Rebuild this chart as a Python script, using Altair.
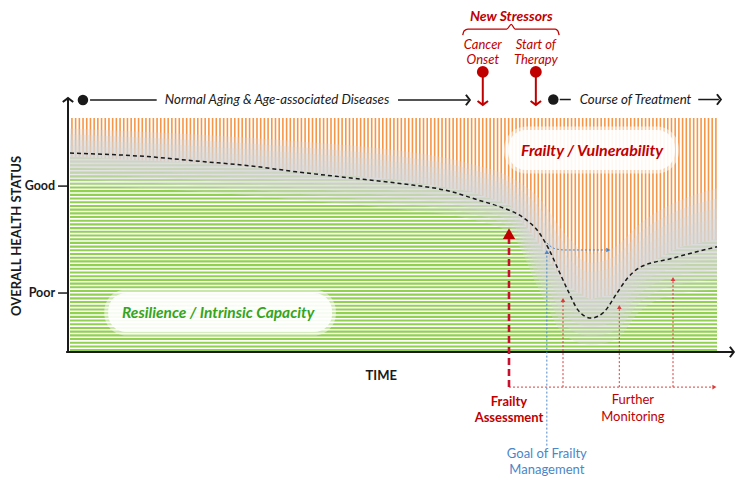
import altair as alt
import numpy as np
import pandas as pd

# ---------------- data (time 0-100, health 0-100) ----------------
curve_time = [0, 12, 20, 28, 35, 43, 51, 59, 63, 66.5, 70, 72.5, 74, 75.5, 77, 78.5, 80.5, 82.5, 84.5, 86, 88, 93, 100]
curve_health = [85, 83.5, 81.5, 79.5, 77, 74.5, 72, 68.5, 65, 62, 57.5, 51, 44, 35, 26, 18, 14.5, 17, 25, 31, 36, 40, 45]

band_time = [0, 20.1, 35.5, 51.0, 61.8, 68.0, 72.6, 76.5, 80.4, 84.2, 88.1, 94.3, 100]
band_upper = [95.5, 92.8, 90.0, 86.0, 80.5, 74.8, 65.5, 50.5, 42.0, 44.8, 54.8, 64.8, 70.0]
band_lower = [71.5, 68.5, 65.0, 61.0, 56.8, 50.8, 26.0, 7.0, 3.0, 5.0, 17.5, 25.0, 26.5]

RED = "#c00000"
RED_LIGHT = "#dd3b3b"
BLUE = "#4a86c8"
GREEN_TXT = "#36a41c"
DARK = "#1a1a1a"
FONT = "Lato"

texts = [
    # label, time, health, color, size, weight, style, align, angle
    ("New Stressors", 68.2, 143.0, RED, 14, "bold", "italic", "center", 0),
    ("Cancer", 63.8, 131.4, RED, 13, "normal", "italic", "center", 0),
    ("Onset", 63.8, 124.8, RED, 13, "normal", "italic", "center", 0),
    ("Start of", 72.0, 131.4, RED, 13, "normal", "italic", "center", 0),
    ("Therapy", 72.0, 124.8, RED, 13, "normal", "italic", "center", 0),
    ("Normal Aging & Age-associated Diseases", 32.0, 107.7, DARK, 13.3, "normal", "italic", "center", 0),
    ("Course of Treatment", 87.4, 107.9, DARK, 13.3, "normal", "italic", "center", 0),
    ("Frailty / Vulnerability", 80.7, 85.9, RED, 16, "bold", "italic", "center", 0),
    ("Resilience / Intrinsic Capacity", 22.9, 16.7, GREEN_TXT, 15.5, "bold", "italic", "center", 0),
    ("Good", -2.3, 70.9, DARK, 12.5, "bold", "normal", "right", 0),
    ("Poor", -2.3, 25.2, DARK, 12.5, "bold", "normal", "right", 0),
    ("OVERALL HEALTH STATUS", -8.2, 49.6, DARK, 13, "bold", "normal", "center", 270),
    ("TIME", 48.1, -10.3, DARK, 13, "bold", "normal", "center", 0),
    ("Frailty", 67.85, -21.4, RED, 13, "bold", "normal", "center", 0),
    ("Assessment", 67.85, -28.2, RED, 13, "bold", "normal", "center", 0),
    ("Further", 87.0, -20.5, RED, 13, "normal", "normal", "center", 0),
    ("Monitoring", 87.0, -27.8, RED, 13, "normal", "normal", "center", 0),
    ("Goal of Frailty", 73.7, -43.8, BLUE, 13, "normal", "normal", "center", 0),
    ("Management", 73.7, -50.6, BLUE, 13, "normal", "normal", "center", 0),
]

solid_segments = [
    # t1, h1, t2, h2, color, width
    (-0.31, 0, -0.31, 108.4, DARK, 2),
    (-0.6, 0, 102.5, 0, DARK, 2),
    (-1.85, 70.9, -0.31, 70.9, DARK, 1.5),
    (-1.85, 25.2, -0.31, 25.2, DARK, 1.5),
    (3.1, 107.7, 13.4, 107.7, DARK, 1.5),
    (50.7, 107.7, 61.6, 107.7, DARK, 1.5),
    (75.7, 107.9, 77.4, 107.9, DARK, 1.5),
    (97.1, 107.9, 100.3, 107.9, DARK, 1.5),
    (63.8, 119.7, 63.8, 105.9, RED, 2),
    (72.0, 119.7, 72.0, 105.9, RED, 2),
]

chevrons = [
    # t, h, angle, color
    (-0.31, 108.5, 0, DARK),
    (102.6, 0, 90, DARK),
    (61.8, 107.7, 90, DARK),
    (100.6, 107.9, 90, DARK),
    (63.8, 105.6, 180, RED),
    (72.0, 105.6, 180, RED),
]

dots = [
    (2.0, 107.7, DARK, 110),
    (74.7, 107.9, DARK, 110),
    (63.8, 119.7, RED, 140),
    (72.0, 119.7, RED, 140),
]

brace_t = [60.7, 60.9, 61.5, 67.5, 68.2, 68.8, 75.0, 75.4, 75.6]
brace_h = [135.4, 137.2, 138.0, 138.0, 140.0, 138.0, 138.0, 137.2, 135.4]

dotted_red = [
    (67.85, -15.0, 99.3, -15.0),
    (76.2, -15.0, 76.2, 21.4),
    (84.9, -15.0, 84.9, 18.4),
    (93.2, -15.0, 93.2, 30.4),
]
frailty_line = [(67.85, -15.0, 67.85, 48.5)]
dotted_blue_vert = [(73.7, -40.0, 73.7, 41.9)]
blue_path_t = [73.7, 74.9, 76.5, 82.8]
blue_path_h = [46.6, 44.2, 43.6, 43.6]

triangles = [
    # t, h, shape, size, color
    (67.85, 50.6, "triangle-up", 150, RED),
    (76.2, 22.2, "triangle-up", 22, RED_LIGHT),
    (84.9, 19.2, "triangle-up", 22, RED_LIGHT),
    (93.2, 31.2, "triangle-up", 22, RED_LIGHT),
    (99.6, -15.0, "triangle-right", 22, RED_LIGHT),
    (73.7, 42.7, "triangle-up", 22, BLUE),
    (83.2, 43.6, "triangle-right", 22, BLUE),
]

boxes = [
    # t1, t2, h1, h2
    (67.7, 93.5, 77.8, 94.9),
    (5.9, 40.5, 8.5, 25.2),
]

# stripe textures
orange_step = 0.572
green_step = 1.58

# ---------------- helpers ----------------
SX = alt.Scale(domain=[0, 100], nice=False, zero=False)
SY = alt.Scale(domain=[0, 100], nice=False, zero=False)


def X(f):
    return alt.X(f, type="quantitative", scale=SX, axis=None)


def Y(f):
    return alt.Y(f, type="quantitative", scale=SY, axis=None)


mid = [(u + l) / 2 for u, l in zip(band_upper, band_lower)]

layers = []

# green horizontal stripes
gh = np.arange(0.8, 100, green_step)
gdf = pd.DataFrame({"h": gh, "t1": 0.0, "t2": 100.0})
layers.append(alt.Chart(gdf).mark_rule(color="#92d050", strokeWidth=2.1).encode(
    x=X("t1"), x2="t2", y=Y("h")))

# white area above the boundary
wdf = pd.DataFrame({"t": band_time, "m": mid, "top": 100.0})
layers.append(alt.Chart(wdf).mark_area(color="white", opacity=1).encode(
    x=X("t"), y=Y("m"), y2="top"))

# orange vertical stripes
ot = np.arange(0.3, 100, orange_step)
odf = pd.DataFrame({"t": ot, "b": np.interp(ot, band_time, mid), "top": 100.0})
layers.append(alt.Chart(odf).mark_rule(color="#f79646", strokeWidth=1.6).encode(
    x=X("t"), y=Y("b"), y2="top"))

# gray blurred band
for f in [1.0, 0.8, 0.6, 0.4, 0.2]:
    up = [m + (u - m) * f for u, m in zip(band_upper, mid)]
    lo = [m + (l - m) * f for l, m in zip(band_lower, mid)]
    bdf = pd.DataFrame({"t": band_time, "u": up, "l": lo})
    layers.append(alt.Chart(bdf).mark_area(color="#d6d6d6", opacity=0.32, interpolate="monotone").encode(
        x=X("t"), y=Y("l"), y2="u"))

# label boxes (soft edged)
bx = pd.DataFrame(boxes, columns=["t1", "t2", "h1", "h2"])
bx_out = bx.copy()
bx_out["t1"] -= 0.6
bx_out["t2"] += 0.6
bx_out["h1"] -= 1.5
bx_out["h2"] += 1.5
layers.append(alt.Chart(bx_out).mark_rect(color="white", opacity=0.5, cornerRadius=22).encode(
    x=X("t1"), x2="t2", y=Y("h1"), y2="h2"))
layers.append(alt.Chart(bx).mark_rect(color="white", opacity=0.85, cornerRadius=18).encode(
    x=X("t1"), x2="t2", y=Y("h1"), y2="h2"))

# dashed health curve
cdf = pd.DataFrame({"t": curve_time, "h": curve_health})
layers.append(alt.Chart(cdf).mark_line(color=DARK, strokeWidth=1.5, strokeDash=[4, 3], interpolate="monotone").encode(
    x=X("t"), y=Y("h")))

# solid segments
for i, (t1, h1, t2, h2, col, w) in enumerate(solid_segments):
    sdf = pd.DataFrame({"t1": [t1], "h1": [h1], "t2": [t2], "h2": [h2]})
    layers.append(alt.Chart(sdf).mark_rule(color=col, strokeWidth=w).encode(
        x=X("t1"), y=Y("h1"), x2="t2", y2="h2"))

# chevrons (open arrow heads)
chev_shape = "M-1,0.75L0,0L1,0.75"
for t, h, ang, col in chevrons:
    cd = pd.DataFrame({"t": [t], "h": [h]})
    layers.append(alt.Chart(cd).mark_point(shape=chev_shape, filled=False, size=110, stroke=col,
                                           strokeWidth=2, angle=ang, opacity=1).encode(
        x=X("t"), y=Y("h")))

# dots
for t, h, col, s in dots:
    dd = pd.DataFrame({"t": [t], "h": [h]})
    layers.append(alt.Chart(dd).mark_circle(color=col, size=s, opacity=1).encode(x=X("t"), y=Y("h")))

# brace
brdf = pd.DataFrame({"t": brace_t, "h": brace_h, "o": range(len(brace_t))})
layers.append(alt.Chart(brdf).mark_line(color=RED, strokeWidth=1.3, interpolate="monotone").encode(
    x=X("t"), y=Y("h"), order="o"))

# dotted / dashed lines
def seg_layer(segs, col, w, dash):
    sd = pd.DataFrame(segs, columns=["t1", "h1", "t2", "h2"])
    return alt.Chart(sd).mark_rule(color=col, strokeWidth=w, strokeDash=dash).encode(
        x=X("t1"), y=Y("h1"), x2="t2", y2="h2")

layers.append(seg_layer(dotted_red, RED_LIGHT, 1, [2, 2]))
layers.append(seg_layer(dotted_blue_vert, BLUE, 1, [2, 2]))
layers.append(seg_layer(frailty_line, "#c8102e", 2.6, [7, 4]))
bpdf = pd.DataFrame({"t": blue_path_t, "h": blue_path_h, "o": range(len(blue_path_t))})
layers.append(alt.Chart(bpdf).mark_line(color=BLUE, strokeWidth=1, strokeDash=[2, 2], interpolate="monotone").encode(
    x=X("t"), y=Y("h"), order="o"))

# triangles
for t, h, shp, s, col in triangles:
    td = pd.DataFrame({"t": [t], "h": [h]})
    layers.append(alt.Chart(td).mark_point(shape=shp, filled=True, size=s, color=col, opacity=1).encode(
        x=X("t"), y=Y("h")))

# texts
tdf = pd.DataFrame(texts, columns=["label", "t", "h", "color", "size", "weight", "style", "align", "angle"])
for (w, st, al, an, sz), g in tdf.groupby(["weight", "style", "align", "angle", "size"]):
    layers.append(alt.Chart(g).mark_text(font=FONT, fontWeight=w, fontStyle=st, align=al, angle=int(an),
                                         fontSize=float(sz), baseline="middle").encode(
        x=X("t"), y=Y("h"), text="label", color=alt.Color("color", scale=None)))

chart = alt.layer(*layers).properties(
    width=647, height=234,
    padding={"left": 62, "top": 110, "right": 28, "bottom": 127},
    autosize=alt.AutoSizeParams(type="none"),
    background="white",
).configure_view(stroke=None)

chart.save("out.html", embed_options={"renderer": "svg", "actions": False})
